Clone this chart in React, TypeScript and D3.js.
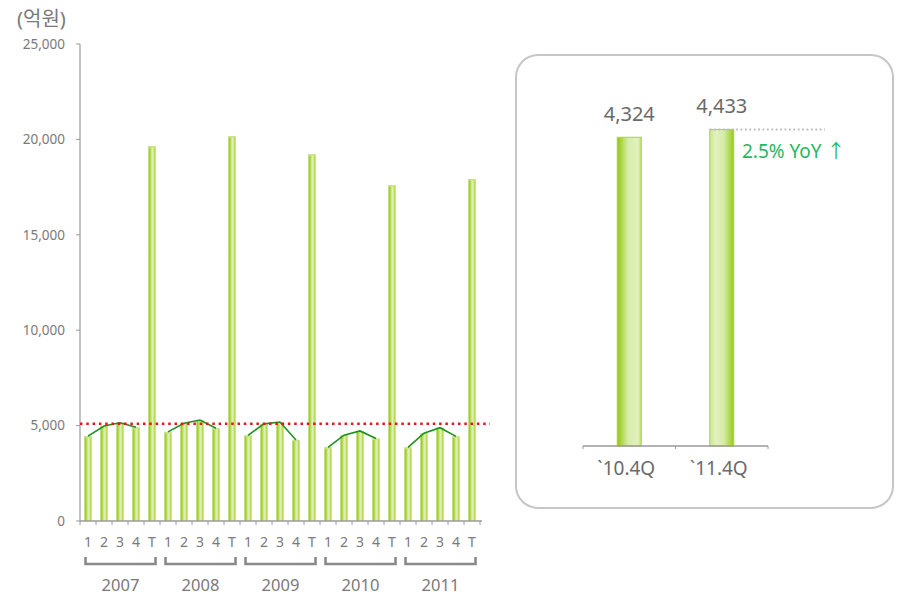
import React from 'react';
import * as d3 from 'd3';

const years = ['2007', '2008', '2009', '2010', '2011'];
const quarterLabels = ['1', '2', '3', '4', 'T'];
const sales2007 = [4450, 4980, 5150, 4910, 19650];
const sales2008 = [4670, 5120, 5290, 4860, 20170];
const sales2009 = [4490, 5090, 5190, 4250, 19220];
const sales2010 = [3860, 4500, 4720, 4324, 17600];
const sales2011 = [3860, 4600, 4890, 4433, 17920];
const yTicks = [0, 5000, 10000, 15000, 20000, 25000];
const referenceLevel = 5100;

const compareLabels = ['`10.4Q', '`11.4Q'];
const compareValues = [4324, 4433];
const yoyText = '2.5% YoY ↑';
const unitLabel = '(억원)';

const allSeries = [sales2007, sales2008, sales2009, sales2010, sales2011];

const FONT = '"Noto Sans", "Noto Sans CJK KR", sans-serif';
const GRAY = '#7a7a7a';

export default function App() {
  const cats: { key: string; label: string; year: string; qi: number; value: number }[] = [];
  years.forEach((y, yi) => {
    quarterLabels.forEach((q, qi) => {
      cats.push({ key: `${y}-${q}`, label: q, year: y, qi, value: allSeries[yi][qi] });
    });
  });

  const x = d3
    .scaleBand<string>()
    .domain(cats.map((c) => c.key))
    .range([80, 480])
    .paddingInner(0.5625)
    .paddingOuter(0.28125);
  const y = d3.scaleLinear().domain([0, 25000]).range([521, 44]);
  const step = x.step();
  const bw = x.bandwidth();

  const line = d3
    .line<{ key: string; value: number }>()
    .x((d) => (x(d.key) as number) + bw / 2)
    .y((d) => y(d.value));

  // right panel
  const x2 = d3.scalePoint<string>().domain(compareLabels).range([583, 768]).padding(0.5);
  const y2 = d3.scaleLinear().domain([0, 5000]).range([446, 89]);
  const bw2 = 24;

  return (
    <svg width={897} height={596} style={{ position: 'absolute', left: 0, top: 0 }}>
      <defs>
        <linearGradient id="barGrad" x1="0" x2="1" y1="0" y2="0">
          <stop offset="0%" stopColor="#8cc00c" />
          <stop offset="30%" stopColor="#b8dc55" />
          <stop offset="55%" stopColor="#e2f2b6" />
          <stop offset="80%" stopColor="#c6e37c" />
          <stop offset="100%" stopColor="#9acb18" />
        </linearGradient>
        <linearGradient id="bigGradA" x1="0" x2="1" y1="0" y2="0">
          <stop offset="0%" stopColor="#94c614" />
          <stop offset="45%" stopColor="#d6eca8" />
          <stop offset="85%" stopColor="#e3f1bd" />
          <stop offset="100%" stopColor="#c2e07c" />
        </linearGradient>
        <linearGradient id="bigGradB" x1="0" x2="1" y1="0" y2="0">
          <stop offset="0%" stopColor="#cde696" />
          <stop offset="25%" stopColor="#e3f1bd" />
          <stop offset="60%" stopColor="#d4eba4" />
          <stop offset="100%" stopColor="#98c918" />
        </linearGradient>
      </defs>

      {/* unit label */}
      <text x={17} y={19} dy="0.35em" fontFamily={FONT} fontSize={20} fill={GRAY}>
        {unitLabel}
      </text>

      {/* y axis */}
      <line x1={80} x2={80} y1={y(25000)} y2={y(0)} stroke="#9a9a9a" strokeWidth={1.2} />
      {yTicks.map((t) => (
        <g key={t}>
          <line x1={76} x2={80} y1={y(t)} y2={y(t)} stroke="#9a9a9a" strokeWidth={1} />
          <text
            x={65}
            y={y(t)}
            dy="0.35em"
            textAnchor="end"
            fontFamily={FONT}
            fontSize={13.5}
            fill={GRAY}
          >
            {d3.format(',')(t)}
          </text>
        </g>
      ))}

      {/* bars */}
      {cats.map((c) => (
        <g key={c.key}>
          <rect
            x={x(c.key)}
            y={y(c.value)}
            width={bw}
            height={y(0) - y(c.value)}
            fill="url(#barGrad)"
          />
          <rect x={x(c.key)} y={y(c.value)} width={bw} height={1.5} fill="#c8e38a" />
        </g>
      ))}

      {/* quarter trend lines */}
      {years.map((yr) => (
        <path
          key={yr}
          d={line(cats.filter((c) => c.year === yr && c.qi < 4)) || ''}
          fill="none"
          stroke="#1f8f1f"
          strokeWidth={1.6}
        />
      ))}

      {/* red reference line */}
      <line
        x1={80}
        x2={490}
        y1={y(referenceLevel)}
        y2={y(referenceLevel)}
        stroke="#e8141c"
        strokeWidth={2.5}
        strokeDasharray="2.5,3.8"
      />

      {/* baseline */}
      <line x1={80} x2={482} y1={y(0)} y2={y(0)} stroke="#9a9a9a" strokeWidth={1.5} />
      {d3.range(cats.length + 1).map((i) => (
        <line
          key={i}
          x1={80 + i * step}
          x2={80 + i * step}
          y1={y(0)}
          y2={y(0) + 4}
          stroke="#9a9a9a"
          strokeWidth={1}
        />
      ))}

      {/* category labels */}
      {cats.map((c) => (
        <text
          key={c.key}
          x={(x(c.key) as number) + bw / 2}
          y={542}
          dy="0.35em"
          textAnchor="middle"
          fontFamily={FONT}
          fontSize={14}
          fill={GRAY}
        >
          {c.label}
        </text>
      ))}

      {/* year brackets */}
      {years.map((yr, i) => {
        const x0 = 80 + i * 5 * step + 5.5;
        const x1 = 80 + (i + 1) * 5 * step - 4.5;
        return (
          <g key={yr}>
            <path
              d={`M${x0},557 V564 H${x1} V557`}
              fill="none"
              stroke="#8a8a8a"
              strokeWidth={2.6}
            />
            <text
              x={(x0 + x1) / 2}
              y={585}
              dy="0.35em"
              textAnchor="middle"
              fontFamily={FONT}
              fontSize={16.5}
              fill={GRAY}
            >
              {yr}
            </text>
          </g>
        );
      })}

      {/* right panel */}
      <rect
        x={516}
        y={55}
        width={377}
        height={453}
        rx={22}
        ry={22}
        fill="#fff"
        stroke="#c6c6c6"
        strokeWidth={2}
      />

      {compareLabels.map((lab, i) => {
        const cx = x2(lab) as number;
        const v = compareValues[i];
        return (
          <g key={lab}>
            <rect
              x={cx - bw2 / 2}
              y={y2(v)}
              width={bw2}
              height={y2(0) - y2(v)}
              fill={i === 0 ? 'url(#bigGradA)' : 'url(#bigGradB)'}
              stroke="#a9d436"
              strokeWidth={1}
            />
            <text
              x={cx}
              y={y2(v) - 16}
              textAnchor="middle"
              fontFamily={FONT}
              fontSize={20}
              fill="#6a6a6a"
            >
              {d3.format(',')(v)}
            </text>
            <text
              x={cx - 3}
              y={468}
              dy="0.35em"
              textAnchor="middle"
              fontFamily={FONT}
              fontSize={19}
              fill="#6a6a6a"
            >
              {lab}
            </text>
          </g>
        );
      })}

      {/* right axis */}
      <line x1={583} x2={768} y1={y2(0)} y2={y2(0)} stroke="#9a9a9a" strokeWidth={1.5} />
      {[583, (583 + 768) / 2, 768].map((tx) => (
        <line key={tx} x1={tx} x2={tx} y1={y2(0)} y2={y2(0) + 3} stroke="#9a9a9a" strokeWidth={1} />
      ))}

      {/* yoy dotted line and text */}
      <line
        x1={(x2(compareLabels[1]) as number) - bw2 / 2}
        x2={825}
        y1={y2(compareValues[1])}
        y2={y2(compareValues[1])}
        stroke="#bdbdbd"
        strokeWidth={1.8}
        strokeDasharray="1.8,2.6"
      />
      <text x={742} y={151} dy="0.35em" fontFamily={FONT} fontSize={19} fill="#1fb862">
        {yoyText}
      </text>
    </svg>
  );
}
